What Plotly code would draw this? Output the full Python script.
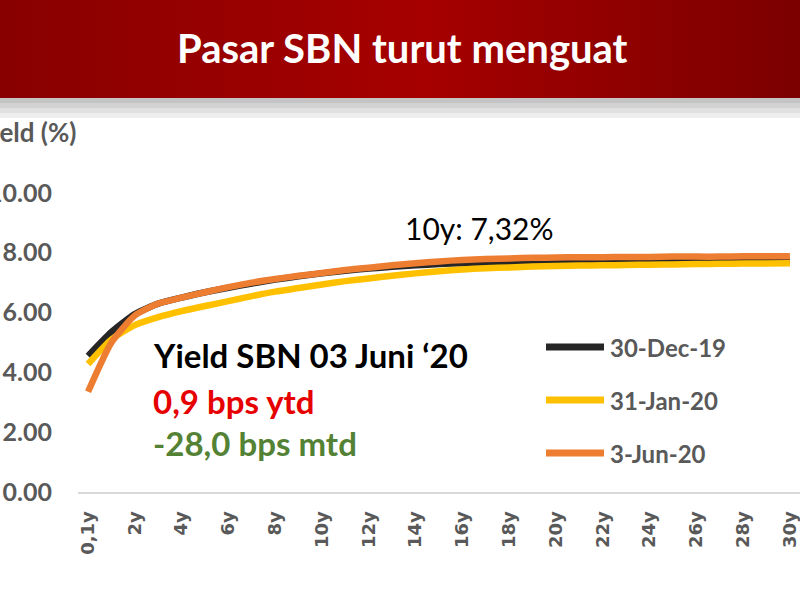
import plotly.graph_objects as go

# ---------------- data ----------------
tenors = ["0,1y"] + [f"{i}y" for i in range(1, 31)]
dec19 = [4.55, 5.35, 5.95, 6.30, 6.50, 6.68, 6.83, 6.97, 7.10, 7.21, 7.31,
         7.40, 7.47, 7.53, 7.58, 7.62, 7.65, 7.67, 7.69, 7.70, 7.71,
         7.72, 7.72, 7.73, 7.73, 7.74, 7.74, 7.74, 7.75, 7.75, 7.75]
jan20 = [4.28, 5.10, 5.58, 5.85, 6.05, 6.22, 6.38, 6.55, 6.70, 6.82, 6.94,
         7.05, 7.14, 7.23, 7.31, 7.38, 7.44, 7.48, 7.51, 7.54, 7.56,
         7.57, 7.58, 7.59, 7.60, 7.61, 7.62, 7.63, 7.64, 7.64, 7.65]
jun20 = [3.35, 5.00, 5.90, 6.30, 6.50, 6.68, 6.85, 7.00, 7.12, 7.23, 7.32,
         7.42, 7.50, 7.58, 7.65, 7.71, 7.76, 7.79, 7.81, 7.83, 7.84,
         7.85, 7.85, 7.86, 7.86, 7.87, 7.87, 7.87, 7.88, 7.88, 7.88]
series_names = ["30-Dec-19", "31-Jan-20", "3-Jun-20"]
series_colors = ["#262626", "#FFC000", "#ED7D31"]
y_ticks = [0, 2, 4, 6, 8, 10]
y_ticktext = ["0.00", "2.00", "4.00", "6.00", "8.00", "10.00"]

# ---------------- geometry helpers ----------------
W, H = 800, 600
L, R, T, B = 78, 800, 163, 492


def px(x):
    return (x - L) / (R - L)


def py(y):
    return (B - y) / (B - T)


fig = go.Figure()
for name, vals, col in zip(series_names, [dec19, jan20, jun20], series_colors):
    fig.add_trace(go.Scatter(x=tenors, y=vals, name=name, mode="lines",
                             line=dict(color=col, width=6.5, shape="spline", smoothing=0.6),
                             showlegend=False, hoverinfo="x+y+name"))

shapes = []
annotations = []


def lerp_col(c1, c2, t):
    a = [int(c1[i:i + 2], 16) for i in (1, 3, 5)]
    b = [int(c2[i:i + 2], 16) for i in (1, 3, 5)]
    return "#%02x%02x%02x" % tuple(round(a[k] + (b[k] - a[k]) * t) for k in range(3))


# header band with a smooth horizontal gradient
step = 16
for x0 in range(0, 800, step):
    xc = x0 + step / 2
    if xc < 420:
        c = lerp_col("#880000", "#A60000", xc / 420)
    else:
        c = lerp_col("#A60000", "#7C0000", (xc - 420) / 380)
    shapes.append(dict(type="rect", xref="paper", yref="paper", x0=px(x0), x1=px(x0 + step + 1),
                       y0=py(98), y1=py(0), fillcolor=c, line_width=0, layer="above"))
# gray shadow band
for (y0, y1, c) in [(98, 103, "#c4c4c4"), (103, 108, "#d2d2d2"),
                    (108, 113, "#e0e0e0"), (113, 118, "#eeeeee")]:
    shapes.append(dict(type="rect", xref="paper", yref="paper", x0=px(0), x1=px(800),
                       y0=py(y1), y1=py(y0), fillcolor=c, line_width=0, layer="above"))

annotations.append(dict(text="<b>Pasar SBN turut menguat</b>", xref="paper", yref="paper",
                        x=px(402), y=py(48), xanchor="center", yanchor="middle",
                        showarrow=False, font=dict(family="Lato", size=40, color="white")))

annotations.append(dict(text="<b>Yield (%)</b>", xref="paper", yref="paper",
                        x=px(78), y=py(132), xanchor="right", yanchor="middle",
                        showarrow=False, font=dict(family="Lato", size=26, color="#595959")))

annotations.append(dict(text="10y: 7,32%", xref="paper", yref="paper",
                        x=px(403), y=py(228), xanchor="left", yanchor="middle",
                        showarrow=False, font=dict(family="Lato", size=30, color="#000000")))

for txt, yy, col in [("Yield SBN 03 Juni \u201820", 355, "#000000"),
                     ("0,9 bps ytd", 401, "#E60000"),
                     ("-28,0 bps mtd", 443, "#548235")]:
    annotations.append(dict(text=f"<b>{txt}</b>", xref="paper", yref="paper",
                            x=px(151), y=py(yy), xanchor="left", yanchor="middle",
                            showarrow=False, font=dict(family="Lato", size=33, color=col)))

# custom legend
for i, (name, col) in enumerate(zip(series_names, series_colors)):
    yy = 347 + 53 * i
    shapes.append(dict(type="line", xref="paper", yref="paper", x0=px(546), x1=px(604),
                       y0=py(yy), y1=py(yy), line=dict(color=col, width=7)))
    annotations.append(dict(text=f"<b>{name}</b>", xref="paper", yref="paper",
                            x=px(608), y=py(yy), xanchor="left", yanchor="middle",
                            showarrow=False, font=dict(family="Lato", size=24, color="#595959")))

fig.update_layout(
    width=W, height=H,
    margin=dict(l=L, r=W - R, t=T, b=H - B, pad=0),
    paper_bgcolor="white", plot_bgcolor="white",
    shapes=shapes, annotations=annotations,
    showlegend=False,
    xaxis=dict(type="category", range=[-0.43, 30.43], tickmode="array",
               tickvals=tenors[::2], ticktext=tenors[::2], tickangle=-90,
               showgrid=False, zeroline=False, showline=True, linecolor="#D9D9D9",
               linewidth=2, ticks="outside", ticklen=10, tickcolor="rgba(0,0,0,0)",
               tickfont=dict(family="DejaVu Sans", size=18, color="#595959", weight="bold"),
               automargin=False, fixedrange=True),
    yaxis=dict(range=[0, 11], tickmode="array", tickvals=y_ticks, ticktext=y_ticktext,
               showgrid=False, zeroline=False, showline=False,
               ticks="outside", ticklen=20, tickcolor="rgba(0,0,0,0)",
               tickfont=dict(family="Lato", size=25, color="#595959", weight="bold"),
               automargin=False, fixedrange=True),
)

fig.write_html("out.html", config={"displayModeBar": False},
               post_script="document.body.style.margin='0';document.body.style.overflow='hidden';")
